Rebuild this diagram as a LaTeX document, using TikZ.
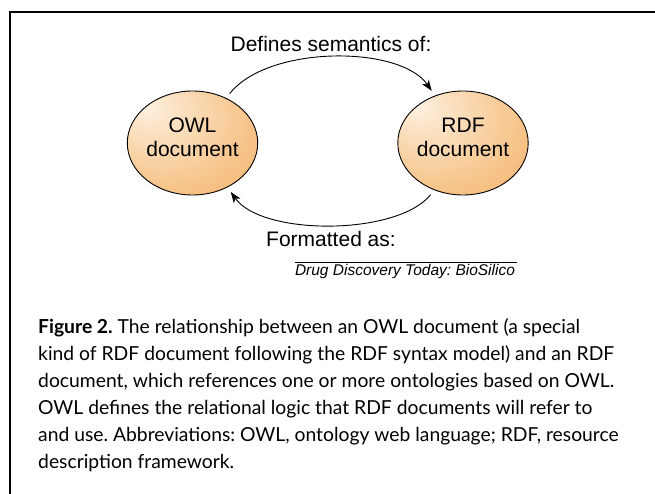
\documentclass[tikz,border=0pt]{standalone}
\usepackage{fontspec}
\setmainfont{Liberation Sans}
\newfontfamily\capfont{Lato}
\usetikzlibrary{shapes.geometric,arrows.meta}
\definecolor{orbin}{HTML}{FDF1E2}
\definecolor{orbmid}{HTML}{F9D2A2}
\definecolor{orbout}{HTML}{EFA24E}
\pgfdeclareradialshading{orb}{\pgfpoint{-18bp}{18bp}}{color(0bp)=(orbin); color(8bp)=(orbin!60!orbmid); color(32bp)=(orbmid!70!orbout); color(64bp)=(orbout); color(72bp)=(orbout)}
\tikzset{
  docball/.style={ellipse, draw=black, line width=0.9pt, shading=orb, inner sep=0pt,
    minimum width=112pt, minimum height=104pt, outer sep=6pt, align=center,
    text depth=12pt, font=\fontsize{21}{24}\selectfont},
  lbl/.style={inner sep=0pt, font=\fontsize{21}{24}\selectfont},
  link/.style={line width=0.9pt, -{Stealth[length=11pt,width=8pt,inset=3pt]}},
  frameline/.style={line width=1.3pt},
}
\begin{document}
\frenchspacing
\begin{tikzpicture}[x=1pt,y=-1pt]
\useasboundingbox (0,0) rectangle (655,494);
\fill[white] (0,0) rectangle (655,494);
\draw[frameline] (10,494) -- (10,12) -- (655,12);
\node[docball] (owl) at (192.5,143) {OWL\\document};
\node[docball] (rdf) at (463,143) {RDF\\document};
\node[lbl, anchor=base] (defines) at (331,52) {Defines semantics of:};
\node[lbl, anchor=base] (formatted) at (331,247) {Formatted as:};
\draw[link] (owl.53) .. controls (268,45) and (400,45) .. (rdf.121);
\draw[link] (rdf.238) .. controls (397,236) and (262,236) .. (owl.308);
\coordinate (ruleL) at (295,262);
\coordinate (ruleR) at (517,262);
\draw[line width=0.6pt] (ruleL) -- (ruleR);
\node[inner sep=0pt, anchor=base, font=\fontsize{15.5}{18}\selectfont\itshape] (journal) at (405,275) {Drug Discovery Today: BioSilico};
\node[inner sep=0pt, anchor=base west, font=\capfont\fontsize{19.3}{27}\selectfont] (caption) at (38,333)
{\begin{tabular}[t]{@{}l@{}}
\textbf{Figure 2.} The relationship between an OWL document (a special\\
kind of RDF document following the RDF syntax model) and an RDF\\
document, which references one or more ontologies based on OWL.\\
OWL defines the relational logic that RDF documents will refer to\\
and use. Abbreviations: OWL, ontology web language; RDF, resource\\
description framework.
\end{tabular}};
\end{tikzpicture}
\end{document}
